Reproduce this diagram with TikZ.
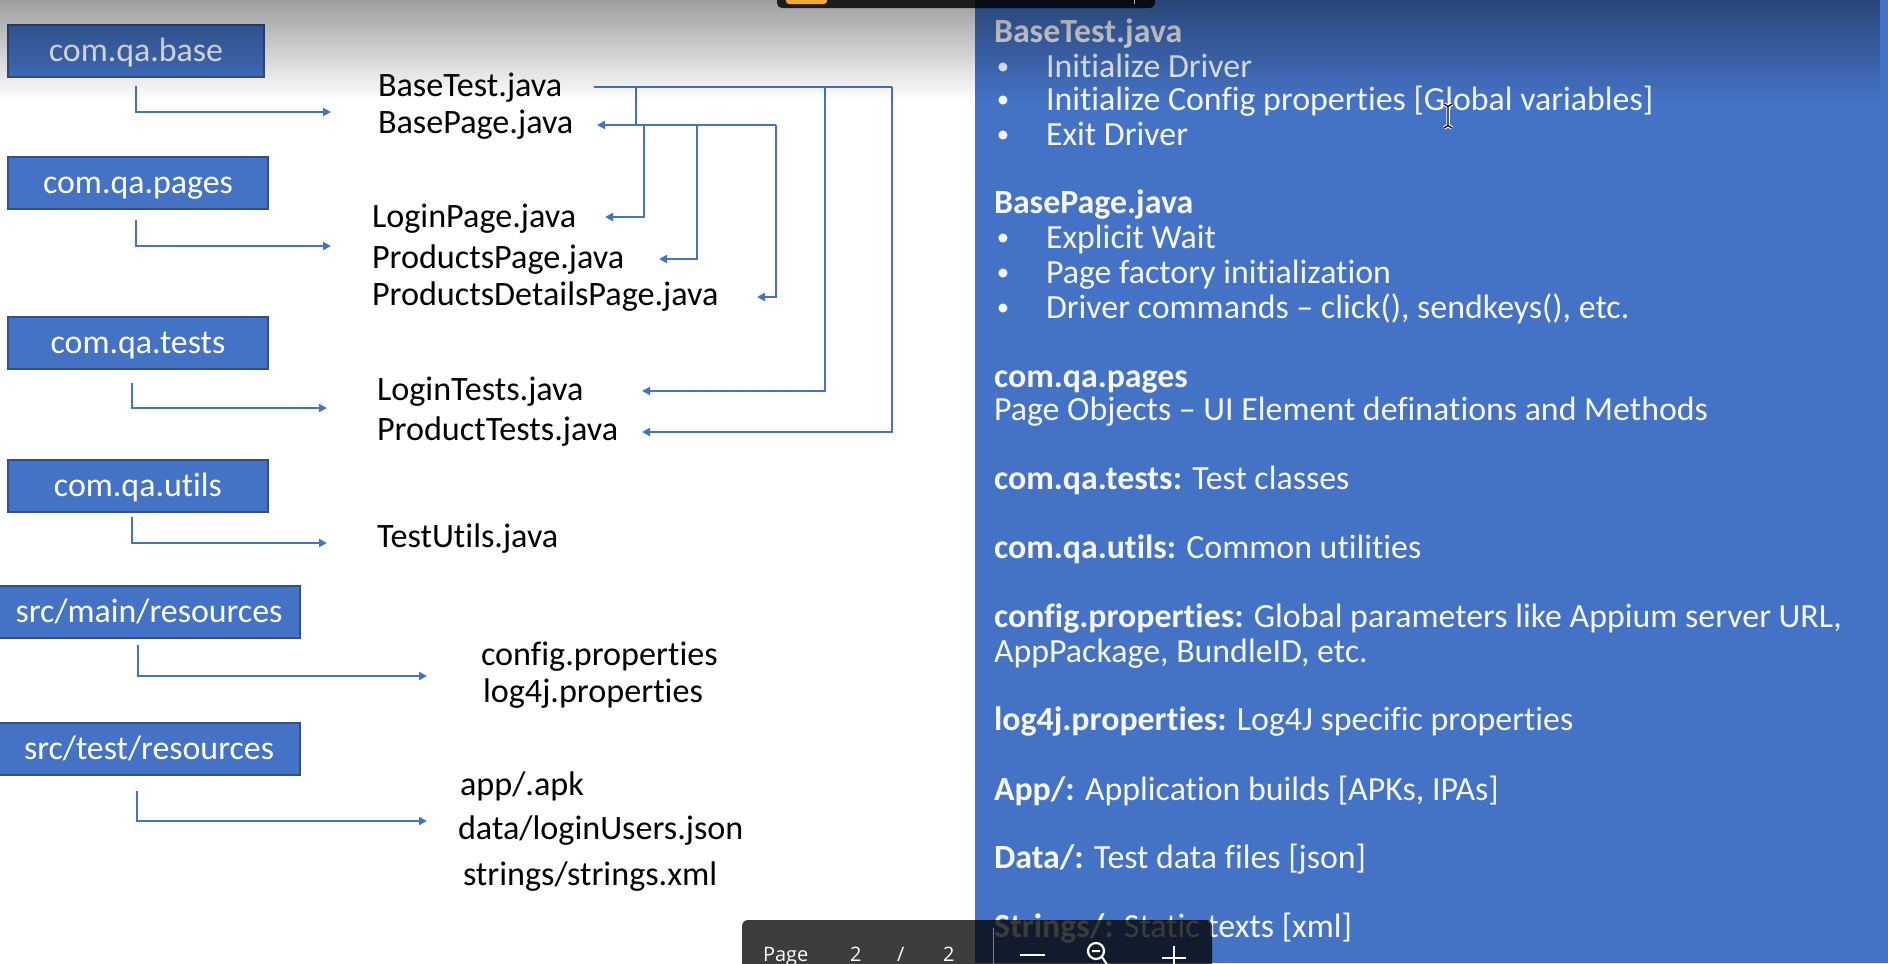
\documentclass[tikz,border=0pt]{standalone}
\usepackage{fontspec}
\setmainfont{Carlito}[Ligatures=NoCommon]
\newfontfamily\uifont{Open Sans}
\usetikzlibrary{arrows.meta,fadings}
\definecolor{panelblue}{RGB}{68,114,196}
\definecolor{boxborder}{RGB}{47,82,143}
\definecolor{connblue}{RGB}{68,114,196}
\definecolor{tbarorange}{RGB}{240,170,50}
\definecolor{paneltext}{RGB}{246,247,250}
\tikzfading[name=fadedown, top color=transparent!0, bottom color=transparent!100]
\begin{document}
\begin{tikzpicture}[x=1bp,y=-1bp,
  every node/.style={inner sep=0pt, outer sep=0pt},
  lbl/.style={anchor=base west, font=\fontsize{34.3}{40}\selectfont, text=black},
  ptext/.style={anchor=base west, font=\fontsize{34}{40}\selectfont, text=paneltext},
  pbullet/.style={anchor=base, font=\fontsize{25}{30}\selectfont, text=paneltext},
  pkgbox/.style={draw=boxborder, line width=2bp, fill=panelblue, text=white, font=\fontsize{34}{40}\selectfont, minimum height=52bp, text height=25bp, text depth=4bp},
  conn/.style={draw=connblue, line width=2bp},
  arr/.style={conn, -{Triangle[length=8bp,width=8bp]}},
  uitext/.style={anchor=base west, font=\uifont\fontsize{20}{24}\selectfont, text=white},
]
\clip (0,0) rectangle (1888,963);
\fill[white] (0,0) rectangle (1888,963);
\fill[panelblue] (975,0) rectangle (1888,963);

% package boxes
\node[pkgbox, minimum width=256bp] (b1) at (136,50.5) {com.qa.base};
\node[pkgbox, minimum width=260bp] (b2) at (138,183) {com.qa.pages};
\node[pkgbox, minimum width=260bp] (b3) at (138,342.5) {com.qa.tests};
\node[pkgbox, minimum width=260bp] (b4) at (138,486) {com.qa.utils};
\node[pkgbox, minimum width=302bp] (b5) at (149,611.5) {src/main/resources};
\node[pkgbox, minimum width=302bp] (b6) at (149,748.5) {src/test/resources};

% file names
\node[lbl] (f1) at (378,96) {BaseTest.java};
\node[lbl] (f2) at (378,133) {BasePage.java};
\node[lbl] (f3) at (372,227) {LoginPage.java};
\node[lbl] (f4) at (372,268) {ProductsPage.java};
\node[lbl] (f5) at (372,305) {ProductsDetailsPage.java};
\node[lbl] (f6) at (377,400) {LoginTests.java};
\node[lbl] (f7) at (377,440) {ProductTests.java};
\node[lbl] (f8) at (377,547) {TestUtils.java};
\node[lbl] (f9) at (481,665) {config.properties};
\node[lbl] (f10) at (483,702) {log4j.properties};
\node[lbl] (f11) at (460,795) {app/.apk};
\node[lbl] (f12) at (458,839) {data/loginUsers.json};
\node[lbl] (f13) at (463,885) {strings/strings.xml};

% elbow connectors from packages
\coordinate (s1) at (136,86);  \coordinate (t1) at (331,112);
\coordinate (s2) at (136,220); \coordinate (t2) at (331,246);
\coordinate (s3) at (132,383); \coordinate (t3) at (327,408);
\coordinate (s4) at (132,517); \coordinate (t4) at (327,543);
\coordinate (s5) at (138,645); \coordinate (t5) at (427,676);
\coordinate (s6) at (137,791); \coordinate (t6) at (427,821);
\foreach \i in {1,...,6} { \draw[arr] (s\i) |- (t\i); }

% inheritance network
\coordinate (n0) at (594,87);
\coordinate (n1) at (636,87);
\coordinate (n2) at (636,125);
\coordinate (n3) at (776,125);
\coordinate (n4) at (644,125);
\coordinate (n5) at (697,125);
\coordinate (n6) at (825,87);
\coordinate (n7) at (892,87);
\coordinate (a2) at (597,125);
\coordinate (a3) at (605,217);
\coordinate (a4) at (659,259);
\coordinate (a5) at (757,297);
\coordinate (a6) at (642,391);
\coordinate (a7) at (642,432);
\draw[conn] (n0) -- (n7);
\draw[conn] (n1) -- (n2);
\draw[arr] (n3) -- (a2);
\draw[arr] (n4) |- (a3);
\draw[arr] (n5) |- (a4);
\draw[arr] (n3) |- (a5);
\draw[arr] (n6) |- (a6);
\draw[arr] (n7) |- (a7);

% right panel text
\node[ptext] (r1) at (994,42) {\textbf{BaseTest.java}};
\node[pbullet] (r1a) at (1003,74) {•};  \node[ptext] (r1b) at (1046,77) {Initialize Driver};
\node[pbullet] (r2a) at (1003,107) {•}; \node[ptext] (r2b) at (1046,110) {Initialize Config properties [Global variables]};
\node[pbullet] (r3a) at (1003,142) {•}; \node[ptext] (r3b) at (1046,145) {Exit Driver};
\node[ptext] (r4) at (994,213) {\textbf{BasePage.java}};
\node[pbullet] (r5a) at (1003,245) {•}; \node[ptext] (r5b) at (1046,248) {Explicit Wait};
\node[pbullet] (r6a) at (1003,280) {•}; \node[ptext] (r6b) at (1046,283) {Page factory initialization};
\node[pbullet] (r7a) at (1003,315) {•}; \node[ptext] (r7b) at (1046,318) {Driver commands – click(), sendkeys(), etc.};
\node[ptext] (r8) at (994,387) {\textbf{com.qa.pages}};
\node[ptext] (r9) at (994,420) {Page Objects – UI Element definations and Methods};
\node[ptext] (r10) at (994,489) {\textbf{com.qa.tests:} Test classes};
\node[ptext] (r11) at (994,558) {\textbf{com.qa.utils:} Common utilities};
\node[ptext] (r12) at (994,627) {\textbf{config.properties:} Global parameters like Appium server URL,};
\node[ptext] (r13) at (994,662) {AppPackage, BundleID, etc.};
\node[ptext] (r14) at (994,730) {\textbf{log4j.properties:} Log4J specific properties};
\node[ptext] (r15) at (994,800) {\textbf{App/:} Application builds [APKs, IPAs]};
\node[ptext] (r16) at (994,868) {\textbf{Data/:} Test data files [json]};
\node[ptext] (r17) at (994,937) {\textbf{Strings/:} Static texts [xml]};

% mouse cursor (I-beam)
\draw[white, line width=3.5bp] (1444,104) -- (1448,106.5) -- (1452,104) (1448,106) -- (1448,126) (1444,128) -- (1448,125.5) -- (1452,128);
\draw[black, line width=1.3bp] (1444,104) -- (1448,106.5) -- (1452,104) (1448,106) -- (1448,126) (1444,128) -- (1448,125.5) -- (1452,128);

% top shading of the screen
\fill[black, opacity=0.38, path fading=fadedown] (0,0) rectangle (1888,100);

% top toolbar
\fill[black, opacity=0.82, rounded corners=5bp] (777,-12) rectangle (1155,8);
\fill[tbarorange, rounded corners=3bp] (786,-8) rectangle (827,4);
\draw[white!70!black, line width=1bp] (1134,-2) -- (1134,4);

% bottom toolbar
\fill[black, opacity=0.76, rounded corners=6bp] (742,920) rectangle (1212,985);
\draw[gray, line width=1bp] (993,928) -- (993,970);
\node[uitext] (pg1) at (763,961) {Page};
\node[uitext] (pg2) at (850,961) {2};
\node[uitext] (pg3) at (897,961) {/};
\node[uitext] (pg4) at (943,961) {2};
\draw[white, line width=2.5bp] (1020,955) -- (1045,955);
\draw[white, line width=2.2bp] (1096,951) circle[radius=8];
\draw[white, line width=2bp] (1092,951) -- (1100,951) (1102,957) -- (1108,966);
\draw[white, line width=2.5bp] (1162,958) -- (1186,958) (1174,946) -- (1174,970);
\end{tikzpicture}
\end{document}
